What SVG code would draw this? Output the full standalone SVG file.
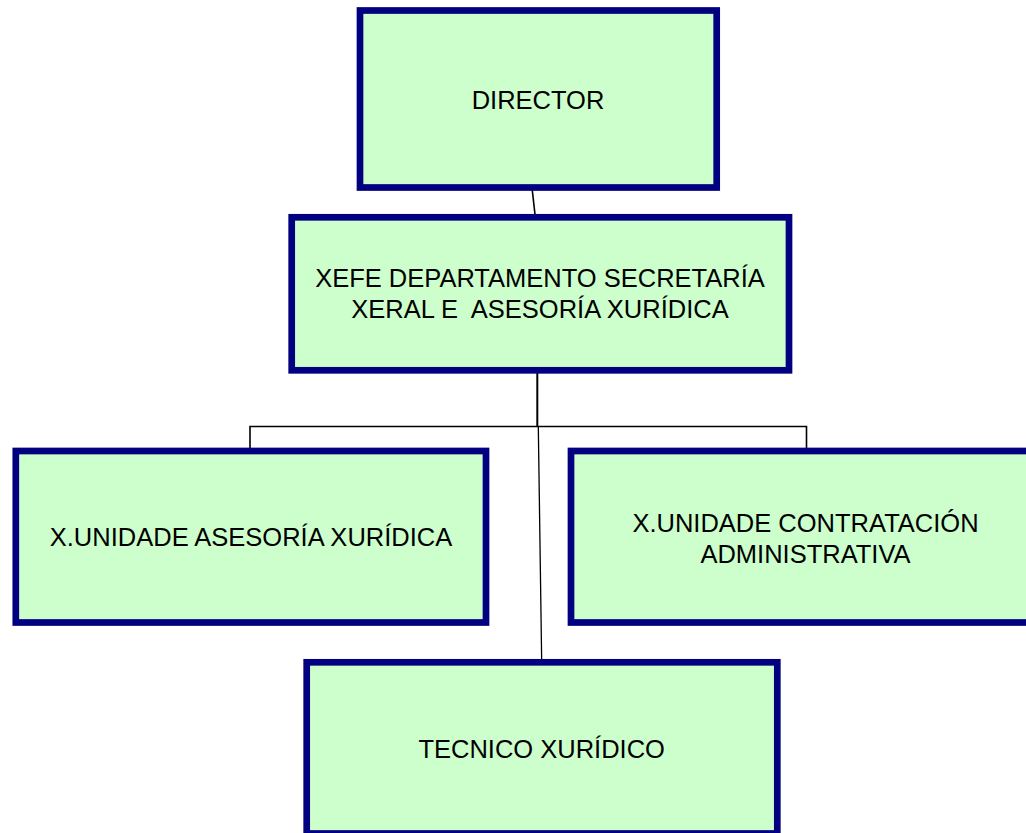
<svg xmlns="http://www.w3.org/2000/svg" width="1026" height="833" viewBox="0 0 1026 833">
<style>
.box{fill:#CCFFCC;stroke:#000080;stroke-width:6.7}
.lbl{font-family:"Liberation Sans",Arial,sans-serif;font-size:25.5px;fill:#000;text-anchor:middle;white-space:pre}
.conn{stroke:#000;fill:none}
</style>
<rect width="1026" height="833" fill="#fff"/>
<g id="connectors">
<line class="conn" x1="531.7" y1="185" x2="536" y2="223.3" stroke-width="1.6"/>
<line class="conn" x1="537.3" y1="373" x2="537.3" y2="427" stroke-width="2"/>
<polyline class="conn" points="250,448 250,426.5 806.5,426.5 806.5,448" stroke-width="1.6"/>
<line class="conn" x1="538.3" y1="426" x2="541.7" y2="663" stroke-width="1.3"/>
</g>
<g id="director">
<rect class="box" x="360" y="10.5" width="356.7" height="177"/>
<text class="lbl" x="538" y="109">DIRECTOR</text>
</g>
<g id="xefe">
<rect class="box" x="291.7" y="217.3" width="497.3" height="153"/>
<text class="lbl" x="540" y="287.3">XEFE DEPARTAMENTO SECRETARÍA</text>
<text class="lbl" x="540" y="318.3" xml:space="preserve">XERAL E  ASESORÍA XURÍDICA</text>
</g>
<g id="asesoria">
<rect class="box" x="15.8" y="451" width="470.2" height="171.5"/>
<text class="lbl" x="251" y="546">X.UNIDADE ASESORÍA XURÍDICA</text>
</g>
<g id="contratacion">
<rect class="box" x="571" y="451" width="462" height="171.5"/>
<text class="lbl" x="805.5" y="531.7">X.UNIDADE CONTRATACIÓN</text>
<text class="lbl" x="805.5" y="563.3">ADMINISTRATIVA</text>
</g>
<g id="tecnico">
<rect class="box" x="306.7" y="662.3" width="470.6" height="171.2"/>
<text class="lbl" x="541.7" y="758.3">TECNICO XURÍDICO</text>
</g>
</svg>
